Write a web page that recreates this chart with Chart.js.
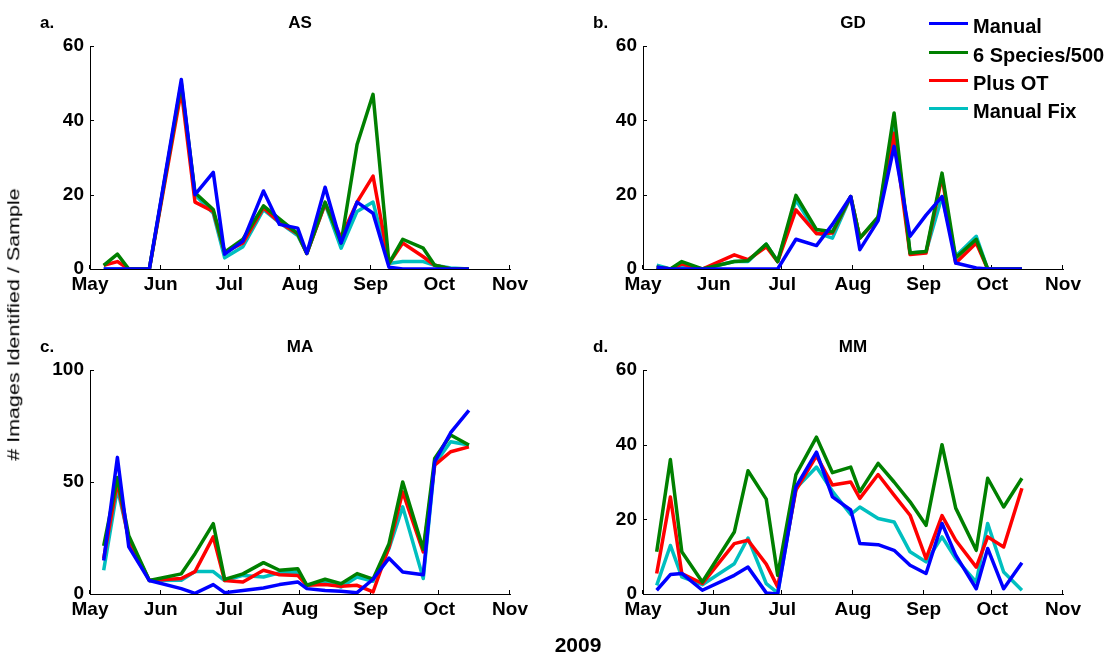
<!DOCTYPE html>
<html>
<head>
<meta charset="utf-8">
<script src="https://cdn.jsdelivr.net/npm/chart.js@4.4.1/dist/chart.umd.min.js"></script>
<style>
  html, body { margin: 0; padding: 0; background: #fff; }
  body { width: 1116px; height: 656px; position: relative; overflow: hidden;
         font-family: 'Liberation Sans', Arial, sans-serif; color: #000; }
  canvas { position: absolute; }
  .txt { position: absolute; white-space: nowrap; line-height: 1; font-weight: bold; }
  .ttl { text-align: center; }
  .legline { position: absolute; height: 3px; width: 39px; }
  #ylab { position: absolute; font-weight: normal; font-size: 17px; line-height: 1; white-space: nowrap;
          transform-origin: center center; color: #000; }
</style>
</head>
<body>
<script>
// ---------------- DATA ----------------
const sampleDates = ['2009-05-07','2009-05-13','2009-05-18','2009-05-27','2009-06-10','2009-06-16',
  '2009-06-24','2009-06-29','2009-07-07','2009-07-16','2009-07-23','2009-07-31','2009-08-04',
  '2009-08-12','2009-08-19','2009-08-26','2009-09-02','2009-09-09','2009-09-15','2009-09-24',
  '2009-09-29','2009-10-06','2009-10-14'];
const monthLabels = ['May','Jun','Jul','Aug','Sep','Oct','Nov'];
const monthStartDates = ['2009-05-01','2009-06-01','2009-07-01','2009-08-01','2009-09-01','2009-10-01','2009-11-01'];
const seriesNames = ['Manual','6 Species/500','Plus OT','Manual Fix'];
const seriesColors = ['#0000ff','#008000','#ff0000','#00bfbf'];
const siteNames = ['AS','GD','MA','MM'];
const panelLetters = ['a.','b.','c.','d.'];
const yMaxes = [60, 60, 100, 60];
const ySteps = [20, 20, 50, 20];
const xAxisTitle = '2009';
const yAxisTitle = '# Images Identified / Sample';

// AS
const asManual    = [0, 0, 0, 0, 51, 20, 26, 4, 7.5, 21, 12, 11, 4.2, 22, 7, 18, 15, 0.5, 0, 0, 0, 0, 0];
const asSpecies   = [1, 4, 0, 0, 50, 20.5, 16, 4.5, 8, 17, 13.5, 9.5, 4.2, 18, 7, 33.5, 47, 1.5, 8, 5.6, 1, 0, 0];
const asPlusOT    = [1, 2, 0, 0, 48, 18, 15.5, 4.5, 7, 16.5, 12.5, 9.5, 4.2, 17.5, 8.5, 18, 25, 1.5, 7, 3.3, 1, 0, 0];
const asManualFix = [0, 0, 0, 0, 49.5, 20, 15, 3, 6, 16, 12.5, 9, 4.2, 17.5, 5.6, 15.5, 18, 1.5, 2, 2, 1, 0.3, 0];
// GD
const gdManual    = [0.5, 0, 0, 0, 0, 0, 0, 0, 8, 6.3, 12, 19.5, 5.2, 13, 33, 8.8, 14.5, 19.5, 1.6, 0.3, 0, 0, 0];
const gdSpecies   = [0.5, 0, 2, 0, 2, 2.2, 6.7, 2, 19.8, 10.6, 10, 19.5, 8.3, 14, 42, 4.3, 4.7, 25.8, 3, 8, 0, 0, 0];
const gdPlusOT    = [0.5, 0, 1.3, 0, 3.8, 2.5, 6, 2, 15.9, 9.5, 9.7, 19.5, 8.3, 13.7, 36.5, 3.9, 4.3, 24.9, 1.6, 7, 0, 0, 0];
const gdManualFix = [1, 0, 0.5, 0, 2, 2, 6.7, 2, 18.6, 9.7, 8.3, 19.5, 8.3, 13.7, 40, 4.3, 4.7, 19.5, 3.4, 8.8, 0, 0, 0];
// MA
const maManual    = [15, 61, 21, 6, 2.4, 0.3, 4.2, 0.6, 1.6, 2.7, 4.2, 5.4, 2.4, 1.6, 1.2, 0.6, 6.6, 16, 9.8, 8.6, 59, 72, 82];
const maSpecies   = [21.5, 52, 26, 6, 9, 18, 31.4, 6.5, 9, 14, 10.6, 11.3, 3.9, 6.6, 4.6, 9.1, 6.6, 22.5, 50, 20, 60.5, 71, 66.5];
const maPlusOT    = [15.8, 50, 24, 6, 6.9, 10, 25.5, 6, 5.4, 10.6, 8.6, 8.3, 3.9, 4.2, 3.5, 3.9, 0.9, 21, 45.6, 18.8, 57.5, 63.5, 65.7];
const maManualFix = [10.6, 47, 24.7, 6, 6.1, 10, 10, 6, 8.3, 7.6, 9.5, 9.8, 3.9, 5.4, 3.1, 7.6, 5.7, 20.3, 38.9, 6.9, 58, 68, 66.5];
// MM
const mmManual    = [1, 5.2, 5.5, 1, 5, 7.2, 0.3, 0, 28.7, 38, 26, 22.5, 13.5, 13.2, 11.7, 7.7, 5.5, 18.9, 10.4, 1.4, 12.2, 1.4, 8.4];
const mmSpecies   = [11.3, 36, 11.3, 3.2, 16.6, 33, 25.4, 5, 32, 42, 32.5, 34, 27.4, 35, 30, 24.7, 18.4, 40, 23, 11.7, 31, 23.3, 31];
const mmPlusOT    = [5.5, 26, 5.5, 2.8, 13.5, 14.4, 8, 1.9, 27.8, 37, 29.2, 30, 25.6, 32, 26.5, 21.1, 9.5, 21, 14.4, 7.2, 15.3, 12.6, 28.3];
const mmManualFix = [2.3, 13, 4.6, 2.5, 8.1, 15, 2.8, 0.3, 28.3, 34, 27.5, 21.3, 23.3, 20.2, 19.3, 11.3, 8.6, 15.3, 9.5, 3.2, 18.9, 5.9, 1];

const siteSeries = [
  [asManual, asSpecies, asPlusOT, asManualFix],
  [gdManual, gdSpecies, gdPlusOT, gdManualFix],
  [maManual, maSpecies, maPlusOT, maManualFix],
  [mmManual, mmSpecies, mmPlusOT, mmManualFix]
];

// ---------------- LAYOUT ----------------
const plotBoxes = [
  { left: 90,  top: 46,  width: 420, height: 223 },
  { left: 643, top: 46,  width: 420, height: 223 },
  { left: 90,  top: 370, width: 420, height: 224 },
  { left: 643, top: 370, width: 420, height: 224 }
];
const Y_W = 70, X_H = 40, PAD_T = 20, PAD_R = 30;
const FONT = "'Liberation Sans', Arial, sans-serif";

function dayOffset(s) {
  const [y, m, d] = s.split('-').map(Number);
  return (Date.UTC(y, m - 1, d) - Date.UTC(2009, 4, 1)) / 86400000;
}
const sampleDays = sampleDates.map(dayOffset);
const monthDays = monthStartDates.map(dayOffset);

const innerTicks = {
  id: 'innerTicks',
  beforeDatasetsDraw(chart) {
    const ctx = chart.ctx, a = chart.chartArea, xs = chart.scales.x, ys = chart.scales.y;
    ctx.save();
    ctx.strokeStyle = '#000';
    ctx.lineWidth = 1;
    ctx.beginPath();
    xs.ticks.forEach(t => {
      const px = Math.round(xs.getPixelForValue(t.value)) - 0.5;
      ctx.moveTo(px, a.bottom); ctx.lineTo(px, a.bottom - 4);
    });
    ys.ticks.forEach(t => {
      const py = Math.round(ys.getPixelForValue(t.value)) + 0.5;
      ctx.moveTo(a.left, py); ctx.lineTo(a.left + 4, py);
    });
    ctx.stroke();
    ctx.restore();
  }
};

function addText(txt, cls, style) {
  const d = document.createElement('div');
  d.className = cls;
  d.textContent = txt;
  Object.assign(d.style, style);
  document.body.appendChild(d);
  return d;
}

plotBoxes.forEach((b, i) => {
  const cv = document.createElement('canvas');
  cv.width = b.width + Y_W + PAD_R;
  cv.height = b.height + PAD_T + X_H;
  cv.style.left = (b.left - Y_W) + 'px';
  cv.style.top = (b.top - PAD_T) + 'px';
  document.body.appendChild(cv);

  new Chart(cv, {
    type: 'line',
    data: {
      datasets: siteSeries[i].map((vals, k) => ({
        label: seriesNames[k],
        data: vals.map((v, j) => ({ x: sampleDays[j], y: v })),
        borderColor: seriesColors[k],
        backgroundColor: seriesColors[k],
        borderWidth: 3.5,
        pointRadius: 0,
        tension: 0,
        fill: false,
        borderJoinStyle: 'round',
        borderCapStyle: 'butt'
      }))
    },
    options: {
      responsive: false,
      animation: false,
      events: [],
      layout: { padding: { top: PAD_T, right: PAD_R, left: 0, bottom: 0 } },
      plugins: { legend: { display: false }, tooltip: { enabled: false }, title: { display: false } },
      scales: {
        x: {
          type: 'linear',
          min: monthDays[0],
          max: monthDays[monthDays.length - 1],
          afterBuildTicks: s => { s.ticks = monthDays.map(v => ({ value: v })); },
          afterFit: s => { s.height = X_H; },
          grid: { display: false, drawTicks: false },
          border: { display: true, color: '#000', width: 1 },
          ticks: {
            autoSkip: false, maxRotation: 0, padding: 4, color: '#000',
            font: { family: FONT, size: 19, weight: 'bold' },
            callback: (v, idx) => monthLabels[idx]
          }
        },
        y: {
          min: 0,
          max: yMaxes[i],
          afterFit: s => { s.width = Y_W; },
          grid: { display: false, drawTicks: false },
          border: { display: true, color: '#000', width: 1 },
          ticks: {
            stepSize: ySteps[i], padding: 6, color: '#000',
            font: { family: FONT, size: 19, weight: 'bold' }
          }
        }
      }
    },
    plugins: [innerTicks]
  });

  // panel title and letter
  const f = 17;
  addText(siteNames[i], 'txt ttl', {
    left: b.left + 'px', width: b.width + 'px', fontSize: f + 'px',
    top: (b.top - 18 - 0.8465 * f) + 'px'
  });
  addText(panelLetters[i], 'txt', {
    left: (b.left - 50) + 'px', fontSize: f + 'px',
    top: (b.top - 18 - 0.8465 * f) + 'px'
  });
});

// legend (panel b)
seriesNames.forEach((name, k) => {
  const baseY = 33.3 + k * 28.3;
  const ln = document.createElement('div');
  ln.className = 'legline';
  ln.style.left = '929px';
  ln.style.top = (baseY - 11) + 'px';
  ln.style.background = seriesColors[k];
  document.body.appendChild(ln);
  addText(name, 'txt', { left: '973px', fontSize: '20px', top: (baseY - 0.8465 * 20) + 'px' });
});

// x axis common title
addText(xAxisTitle, 'txt', { left: '478px', width: '200px', textAlign: 'center', fontSize: '21px',
  top: (651.7 - 0.8465 * 21) + 'px' });

// y axis common title
const yl = document.createElement('div');
yl.id = 'ylab';
yl.textContent = yAxisTitle;
document.body.appendChild(yl);
const w = yl.offsetWidth, h = yl.offsetHeight;
const k = 272 / w;
yl.style.left = (13.2 - w / 2) + 'px';
yl.style.top = (324 - h / 2) + 'px';
yl.style.transform = 'rotate(-90deg) scaleX(' + k.toFixed(3) + ')';
</script>
</body>
</html>
